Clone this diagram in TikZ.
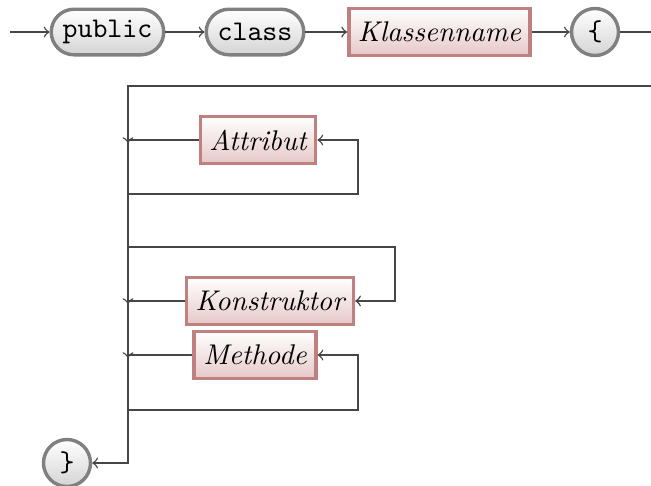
\documentclass[tikz,border=0pt]{standalone}
\usepackage{amsmath,amssymb}
\usepackage{tikz}
\usetikzlibrary{arrows,shapes.misc}

\definecolor{termborder}{RGB}{128,128,128}
\definecolor{termfill}{RGB}{212,212,212}
\definecolor{ntborder}{RGB}{192,128,128}
\definecolor{ntfill}{RGB}{230,200,200}
\definecolor{linecol}{RGB}{70,70,70}

\tikzset{
	terminal/.style={rectangle,rounded corners=8pt,draw=termborder,line width=1.2pt,
		top color=white,bottom color=termfill,minimum height=16pt,inner xsep=4pt,
		font=\ttfamily},
	termcircle/.style={circle,draw=termborder,line width=1.2pt,
		top color=white,bottom color=termfill,minimum size=16.5pt,inner sep=0pt,
		font=\ttfamily},
	nonterminal/.style={rectangle,draw=ntborder,line width=1.2pt,
		top color=white,bottom color=ntfill,minimum height=16.5pt,inner xsep=3.2pt,
		font=\itshape},
	conn/.style={draw=linecol,line width=0.5pt}
}

\begin{document}
\begin{tikzpicture}[x=0.351pt,y=-0.351pt]
		\useasboundingbox (0,0) rectangle (651,486);

		% first row
		\node[terminal] (public) at (107.5,32) {public};
		\node[terminal] (class) at (255,32) {class};
		\node[nonterminal] (klassenname) at (439.5,32) {Klassenname};
		\node[termcircle] (open) at (595,32) {\{};

		% body
		\node[nonterminal] (attribut) at (258,140) {Attribut};
		\node[nonterminal] (konstruktor) at (270,301) {Konstruktor};
		\node[nonterminal] (methode) at (255,355) {Methode};
		\node[termcircle] (close) at (67,463) {\}};

		\coordinate (start) at (10,32);
		\coordinate (rowend) at (651,32);
		\coordinate (rowstart) at (651,86);
		\coordinate (attrbranch) at (128,194);
		\coordinate (konstbranch) at (128,247);
		\coordinate (methbranch) at (128,410);

		\draw[conn,->]
			(start) -- (public);
		\draw[conn,->]
			(public) -- (class);
		\draw[conn,->]
			(class) -- (klassenname);
		\draw[conn,->]
			(klassenname) -- (open);
		\draw[conn]
			(open) -- (rowend);

		\draw[conn,->]
			(rowstart) -- (128,86) -- (128,463) -- (close);

		% Attribut loop
		\draw[conn,->] (attrbranch) -| (358,140) -- (attribut);
		\draw[conn,->] (attribut) -| (128,143);

		% Konstruktor option
		\draw[conn,->] (konstbranch) -| (395,301) -- (konstruktor);
		\draw[conn,->] (konstruktor) -| (128,304);

		% Methode loop
		\draw[conn,->] (methbranch) -| (358,355) -- (methode);
		\draw[conn,->] (methode) -| (128,358);

\end{tikzpicture}
\end{document}
